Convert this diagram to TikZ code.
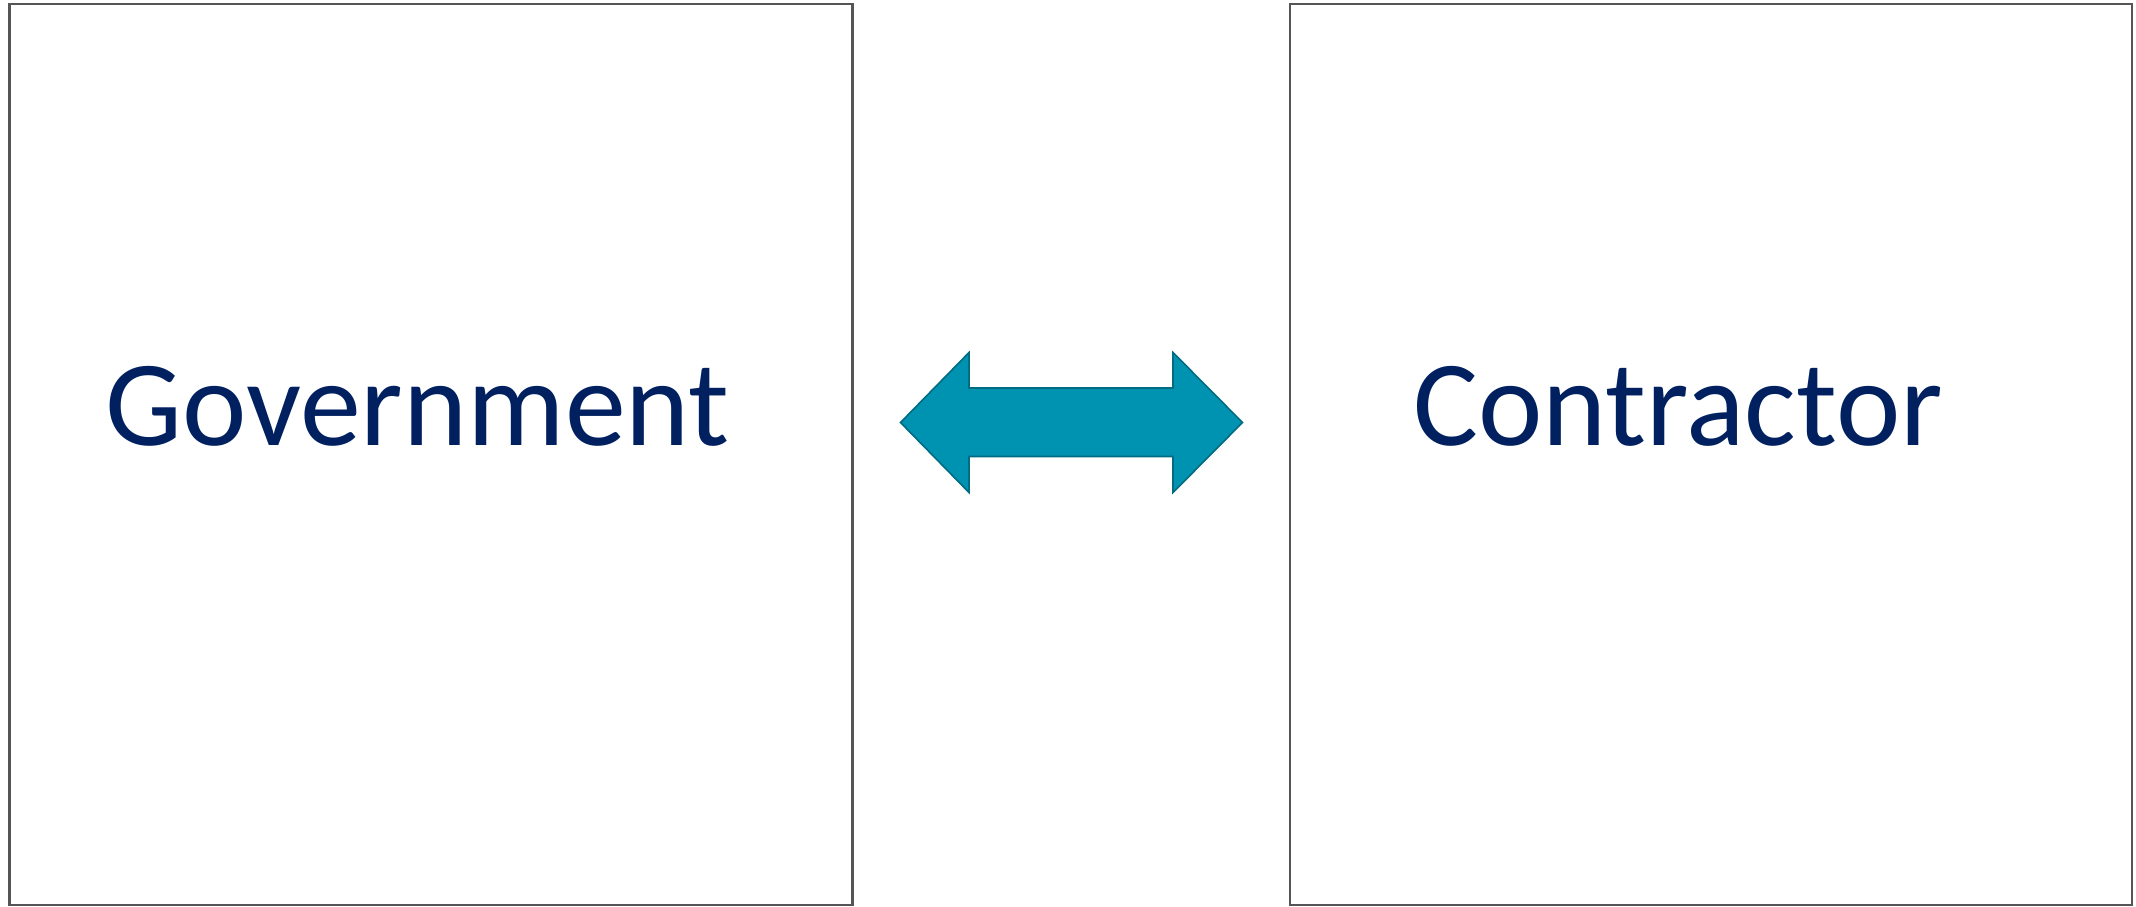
\documentclass[tikz,border=0pt]{standalone}
\usepackage{fontspec}
\setmainfont{Carlito}
\usetikzlibrary{calc, positioning}

\definecolor{navytext}{RGB}{0,32,96}
\definecolor{arrowfill}{RGB}{0,147,177}
\definecolor{arrowline}{RGB}{0,108,130}
\definecolor{boxline}{RGB}{85,85,85}

\begin{document}
\begin{tikzpicture}[
    x=0.5pt, y=-0.5pt,
    party/.style={draw=boxline, line width=1.1pt, fill=white, inner sep=0pt},
    partyname/.style={text=navytext, font=\fontsize{61}{70}\selectfont, anchor=base, inner sep=0pt}
]
    \useasboundingbox (0,0) rectangle (2136,906);

    % 1. Caixas das duas partes
    \draw[party] (9.5,4) rectangle (852.5,905);
    \draw[party] (1290,4) rectangle (2132,905);
    \coordinate (govbox) at (431,454.5);
    \coordinate (conbox) at (1711,454.5);

    % 2. Nomes
    \node[partyname] (gov) at (417.5,445) {Government};
    \node[partyname] (con) at (1678,445) {Contractor};

    % 3. Seta dupla entre as caixas
    \coordinate (L) at (900.5,422.5);
    \coordinate (R) at (1242.5,422.5);
    \draw[fill=arrowfill, draw=arrowline, line width=0.8pt, line join=miter]
        (L) -- (969,352.5) -- (969,388) -- (1173,388) -- (1173,352.5)
        -- (R) -- (1173,492.5) -- (1173,456.5) -- (969,456.5) -- (969,492.5) -- cycle;

\end{tikzpicture}
\end{document}
